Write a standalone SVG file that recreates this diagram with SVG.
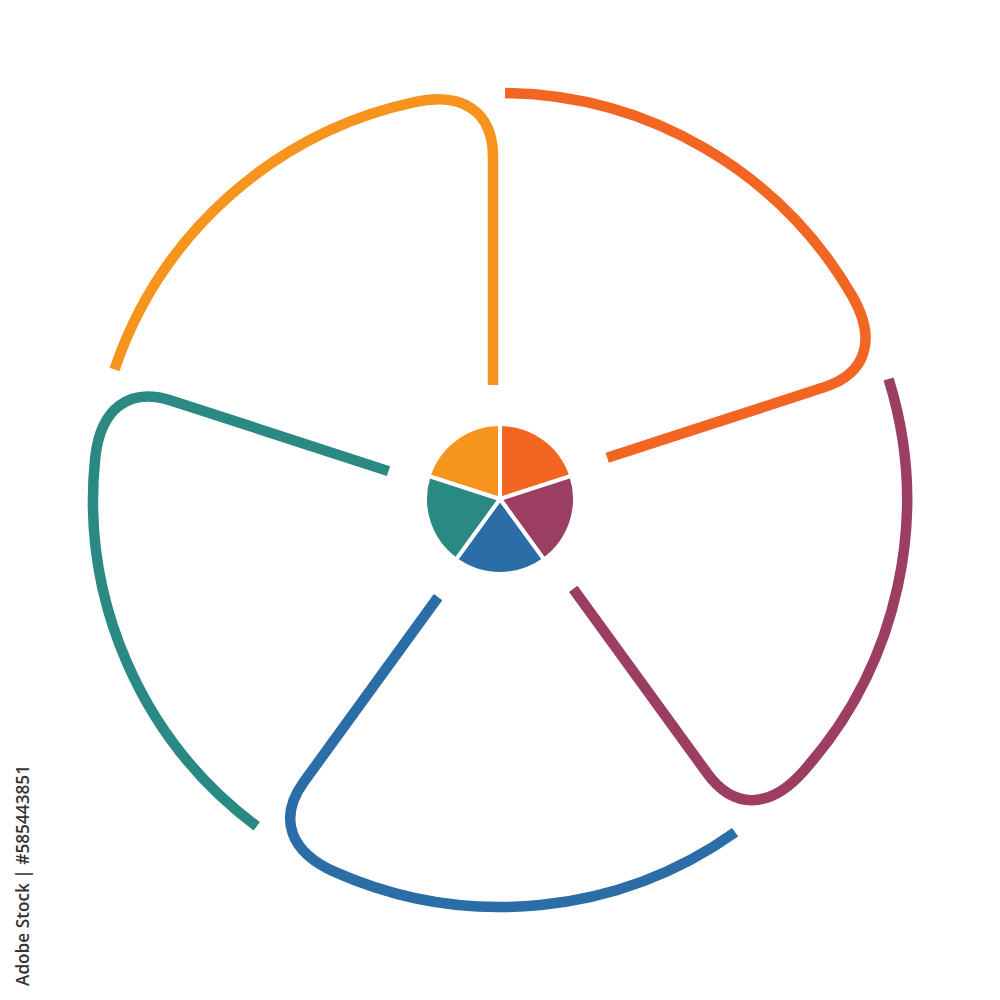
<svg xmlns="http://www.w3.org/2000/svg" width="1000" height="1000" viewBox="0 0 1000 1000">
  <defs>
    <style>
      .seg { fill: none; stroke-width: 10.5; stroke-linecap: butt; stroke-linejoin: round; }
      .slice { stroke: #ffffff; stroke-width: 4; stroke-linejoin: round; }
      .wm { font-family: "Open Sans", "Liberation Sans", sans-serif; font-size: 18px; font-weight: 600; fill: #333333; }
    </style>
    <path id="segShape" d="M -7,-115 L -7,-343 C -7,-388 -36.6,-408.4 -85.5,-397.9 A 407 407 0 0 0 -385.5,-130.5"/>
    <path id="sliceShape" d="M 0,0 L 0,-75 A 75 75 0 0 1 71.33,-23.18 Z"/>
  </defs>
  <rect width="1000" height="1000" fill="#ffffff"/>
  <g id="connectors">
    <use href="#segShape" class="seg" stroke="#F7941D" transform="translate(500,500) rotate(0)"/>
    <use href="#segShape" class="seg" stroke="#F26522" transform="translate(500,500) rotate(72)"/>
    <use href="#segShape" class="seg" stroke="#9C3E62" transform="translate(500,500) rotate(144)"/>
    <use href="#segShape" class="seg" stroke="#2B6DA6" transform="translate(500,500) rotate(216)"/>
    <use href="#segShape" class="seg" stroke="#2A8A83" transform="translate(500,500) rotate(288)"/>
  </g>
  <g id="pie">
    <g id="slice-1"><use href="#sliceShape" class="slice" fill="#F26522" transform="translate(500,499) rotate(0)"/></g>
    <g id="slice-2"><use href="#sliceShape" class="slice" fill="#9C3E62" transform="translate(500,499) rotate(72)"/></g>
    <g id="slice-3"><use href="#sliceShape" class="slice" fill="#2B6DA6" transform="translate(500,499) rotate(144)"/></g>
    <g id="slice-4"><use href="#sliceShape" class="slice" fill="#2A8A83" transform="translate(500,499) rotate(216)"/></g>
    <g id="slice-5"><use href="#sliceShape" class="slice" fill="#F7941D" transform="translate(500,499) rotate(288)"/></g>
  </g>
  <text class="wm" transform="translate(29,986) rotate(-90)" textLength="221" lengthAdjust="spacingAndGlyphs">Adobe Stock | #585443851</text>
</svg>
